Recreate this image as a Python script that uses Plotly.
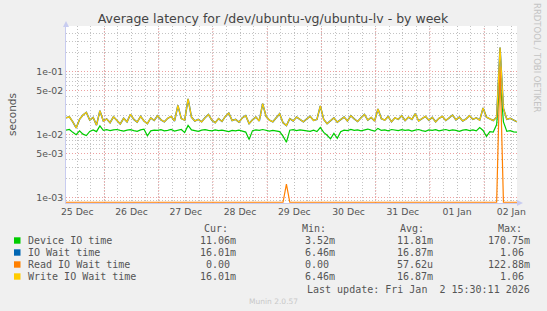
import pandas as pd
import plotly.graph_objects as go

# ---------------- data ----------------
start_time = "2025-12-25 07:00"
end_time = "2026-01-02 14:30"
step_hours = 1.5

device_io = [
    0.0118, 0.0121, 0.0109, 0.0100, 0.0115, 0.0102, 0.0097, 0.0113, 0.0119, 0.0112,
    0.0138, 0.0117, 0.0120, 0.0116, 0.0119, 0.0121, 0.0117, 0.0114, 0.0118, 0.0120,
    0.0116, 0.0113, 0.0119, 0.0122, 0.0096, 0.0115, 0.0118, 0.0117, 0.0120, 0.0115,
    0.0117, 0.0121, 0.0114, 0.0118, 0.0121, 0.0108, 0.0140, 0.0119, 0.0116, 0.0113,
    0.0118, 0.0120, 0.0117, 0.0115, 0.0119, 0.0116, 0.0118, 0.0114, 0.0112, 0.0117,
    0.0115, 0.0118, 0.0113, 0.0110, 0.0084, 0.0116, 0.0119, 0.0117, 0.0121, 0.0118,
    0.0114, 0.0117, 0.0116, 0.0112, 0.0095, 0.0076, 0.0118, 0.0120, 0.0116, 0.0119,
    0.0117, 0.0115, 0.0113, 0.0118, 0.0112, 0.0130, 0.0109, 0.0098, 0.0086, 0.0105,
    0.0088, 0.0112, 0.0118, 0.0116, 0.0121, 0.0117, 0.0119, 0.0115, 0.0120, 0.0123,
    0.0118, 0.0114, 0.0126, 0.0117, 0.0119, 0.0115, 0.0121, 0.0118, 0.0116, 0.0120,
    0.0117, 0.0119, 0.0114, 0.0118, 0.0121, 0.0116, 0.0113, 0.0119, 0.0117, 0.0120,
    0.0115, 0.0118, 0.0121, 0.0116, 0.0119, 0.0117, 0.0113, 0.0118, 0.0120, 0.0116,
    0.0119, 0.0115, 0.0130, 0.0117, 0.0094, 0.0112, 0.0110, 0.0145, 0.0720, 0.0160,
    0.0113, 0.0116, 0.0111, 0.0110,
]

write_io_wait = [
    0.0185, 0.0192, 0.0160, 0.0128, 0.0175, 0.0205, 0.0225, 0.0170, 0.0188, 0.0142,
    0.0240, 0.0165, 0.0178, 0.0155, 0.0192, 0.0170, 0.0148, 0.0182, 0.0160, 0.0210,
    0.0175, 0.0158, 0.0195, 0.0165, 0.0150, 0.0185, 0.0168, 0.0200, 0.0172, 0.0160,
    0.0182, 0.0195, 0.0165, 0.0290, 0.0180, 0.0170, 0.0370, 0.0190, 0.0165, 0.0175,
    0.0160, 0.0185, 0.0210, 0.0170, 0.0155, 0.0180, 0.0162, 0.0195, 0.0220, 0.0168,
    0.0175, 0.0158, 0.0185, 0.0200, 0.0150, 0.0172, 0.0190, 0.0165, 0.0310, 0.0195,
    0.0170, 0.0160, 0.0185, 0.0215, 0.0155, 0.0140, 0.0180, 0.0165, 0.0190, 0.0172,
    0.0160, 0.0178, 0.0195, 0.0168, 0.0175, 0.0285, 0.0175, 0.0150, 0.0165, 0.0185,
    0.0158, 0.0172, 0.0190, 0.0165, 0.0200, 0.0178, 0.0162, 0.0185, 0.0210, 0.0170,
    0.0188, 0.0165, 0.0255, 0.0180, 0.0170, 0.0195, 0.0160, 0.0185, 0.0175, 0.0200,
    0.0168, 0.0190, 0.0175, 0.0215, 0.0165, 0.0180, 0.0195, 0.0170, 0.0188, 0.0160,
    0.0182, 0.0195, 0.0168, 0.0185, 0.0205, 0.0172, 0.0190, 0.0165, 0.0178, 0.0200,
    0.0175, 0.0185, 0.0170, 0.0265, 0.0190, 0.0178, 0.0168, 0.0190, 0.2400, 0.0260,
    0.0175, 0.0182, 0.0168, 0.0160,
]

io_wait = list(write_io_wait)

read_io_wait = [
    0, 0, 0, 0, 0, 0, 0, 0, 0, 0,
    0, 0, 0, 0, 0, 0, 0, 0, 0, 0,
    0, 0, 0, 0, 0, 0, 0, 0, 0, 0,
    0, 0, 0, 0, 0, 0, 0, 0, 0, 0,
    0, 0, 0, 0, 0, 0, 0, 0, 0, 0,
    0, 0, 0, 0, 0, 0, 0, 0, 0, 0,
    0, 0, 0, 0, 0, 0.00166, 0, 0, 0, 0,
    0, 0, 0, 0, 0, 0, 0, 0, 0, 0,
    0, 0, 0, 0, 0, 0, 0, 0, 0, 0,
    0, 0, 0, 0, 0, 0, 0, 0, 0, 0,
    0, 0, 0, 0, 0, 0, 0, 0, 0, 0,
    0, 0, 0, 0, 0, 0, 0, 0, 0, 0,
    0, 0, 0, 0, 0, 0, 0, 0, 0.1200, 0,
    0, 0, 0, 0,
]

day_labels = ["25 Dec", "26 Dec", "27 Dec", "28 Dec", "29 Dec", "30 Dec", "31 Dec", "01 Jan", "02 Jan"]
day_noons = ["2025-12-25 12:00", "2025-12-26 12:00", "2025-12-27 12:00", "2025-12-28 12:00",
             "2025-12-29 12:00", "2025-12-30 12:00", "2025-12-31 12:00", "2026-01-01 12:00",
             "2026-01-02 12:00"]
day_midnights = ["2025-12-26", "2025-12-27", "2025-12-28", "2025-12-29",
                 "2025-12-30", "2025-12-31", "2026-01-01", "2026-01-02"]

y_major_vals = [1e-3, 5e-3, 1e-2, 5e-2, 1e-1]
y_major_text = ["1e-03", "5e-03", "1e-02", "5e-02", "1e-01"]
y_minor_vals = [9e-4, 2e-3, 3e-3, 4e-3, 6e-3, 7e-3, 8e-3, 9e-3,
                2e-2, 3e-2, 4e-2, 6e-2, 7e-2, 8e-2, 9e-2, 2e-1, 3e-1, 4e-1]

series_names = ["Device IO time", "IO Wait time", "Read IO Wait time", "Write IO Wait time"]
series_colors = ["#00CC00", "#0066B3", "#FF8000", "#FFCC00"]
cur_vals = ["11.06m", "16.01m", "0.00\u00a0", "16.01m"]
min_vals = ["3.52m", "6.46m", "0.00\u00a0", "6.46m"]
avg_vals = ["11.81m", "16.87m", "57.62u", "16.87m"]
max_vals = ["170.75m", "1.06\u00a0", "122.88m", "1.06\u00a0"]

# ---------------- layout geometry ----------------
W, H = 547, 311
L, R, T, B = 66, 30, 26, 108
PW, PH = W - L - R, H - T - B
Y_RANGE = [-3.08, -0.28]
FLOOR = 10 ** (Y_RANGE[0] + 0.012)  # where zero values sit on the log axis


def px2x(px):
    return (px - L) / PW


def py2y(py):
    return 1 - (py - T) / PH


times = pd.date_range(start=start_time, periods=len(device_io), freq=pd.Timedelta(hours=step_hours))

fig = go.Figure()
plot_series = [device_io, io_wait, [max(v, FLOOR) for v in read_io_wait], write_io_wait]
widths = [1.2, 1.5, 1.2, 1.2]
for name, vals, col, w in zip(series_names, plot_series, series_colors, widths):
    fig.add_trace(go.Scatter(x=times, y=vals, mode="lines", name=name,
                             line=dict(color=col, width=w), hoverinfo="skip"))

MINOR_GRID = "rgba(190,190,190,0.9)"
MAJOR_GRID = "rgba(235,150,150,0.9)"

# red day gridlines at midnight
for d in day_midnights:
    fig.add_shape(type="line", xref="x", yref="paper", x0=d, x1=d, y0=0, y1=1,
                  line=dict(color=MAJOR_GRID, width=1, dash="1px,2px"), layer="below")

fig.update_layout(
    width=W, height=H,
    margin=dict(l=L, r=R, t=T, b=B, pad=0),
    paper_bgcolor="#F0F0F0",
    plot_bgcolor="#FFFFFF",
    showlegend=False,
    font=dict(family="DejaVu Sans", size=9.3, color="#555555"),
    title=dict(text="Average latency for /dev/ubuntu-vg/ubuntu-lv - by week",
               x=273 / W, xanchor="center", y=1 - 19 / H, yanchor="middle",
               font=dict(family="DejaVu Sans", size=12.5, color="#444444")),
    xaxis=dict(
        type="date", range=[start_time, end_time],
        tickmode="array", tickvals=day_noons, ticktext=day_labels,
        showgrid=True, gridcolor=MINOR_GRID, griddash="1px,2px", gridwidth=1,
        minor=dict(dtick=6 * 3600 * 1000, tick0="2025-12-25 00:00", showgrid=True,
                   gridcolor=MINOR_GRID, griddash="1px,2px", gridwidth=1),
        showline=True, linecolor="#C8CCF0", linewidth=1,
        ticks="", zeroline=False, fixedrange=True,
        tickfont=dict(family="DejaVu Sans", size=9.3, color="#555555"),
    ),
    yaxis=dict(
        type="log", range=Y_RANGE,
        tickmode="array", tickvals=y_major_vals, ticktext=y_major_text,
        showgrid=True, gridcolor=MAJOR_GRID, griddash="1px,2px", gridwidth=1,
        minor=dict(tickmode="array", tickvals=y_minor_vals, showgrid=True,
                   gridcolor=MINOR_GRID, griddash="1px,2px", gridwidth=1),
        showline=True, linecolor="#C8CCF0", linewidth=1,
        ticks="", zeroline=False, fixedrange=True,
        tickfont=dict(family="DejaVu Sans", size=9.3, color="#555555"),
        title=dict(text="seconds", font=dict(family="DejaVu Sans", size=10.5, color="#555555"),
                   standoff=17),
    ),
)

# axis arrows
fig.add_shape(type="path", xref="paper", yref="paper",
              path=f"M {px2x(63)} {py2y(27)} L {px2x(69)} {py2y(27)} L {px2x(66)} {py2y(21)} Z",
              fillcolor="#C8CCF0", line=dict(width=0))
fig.add_shape(type="path", xref="paper", yref="paper",
              path=f"M {px2x(517)} {py2y(200)} L {px2x(517)} {py2y(206)} L {px2x(523)} {py2y(203)} Z",
              fillcolor="#C8CCF0", line=dict(width=0))

ann = []
MONO = "DejaVu Sans Mono"


def text(px, py, s, anchor="left", size=10, color="#555555", family=MONO, angle=0):
    ann.append(dict(x=px2x(px), y=py2y(py), xref="paper", yref="paper", text=s,
                    showarrow=False, xanchor=anchor, yanchor="middle", textangle=angle,
                    font=dict(family=family, size=size, color=color)))


# legend header
for hx, h in zip([202, 300, 398, 496], ["Cur:", "Min:", "Avg:", "Max:"]):
    text(hx, 228, h)

row_y = [240.5, 252.5, 264.5, 276.5]
for i in range(4):
    ry = row_y[i]
    fig.add_shape(type="rect", xref="paper", yref="paper",
                  x0=px2x(14), x1=px2x(20.5), y0=py2y(ry + 3.2), y1=py2y(ry - 3.2),
                  fillcolor=series_colors[i], line=dict(width=0))
    text(26, ry, series_names[i])
    text(238, ry, cur_vals[i], anchor="right")
    text(337, ry, min_vals[i], anchor="right")
    text(434.5, ry, avg_vals[i], anchor="right")
    text(532, ry, max_vals[i], anchor="right")

text(532, 289, "Last update: Fri Jan\u00a0 2 15:30:11 2026", anchor="right")
text(273, 301, "Munin 2.0.57", anchor="center", size=7.5, color="#C8C8C8", family="DejaVu Sans")
text(537, 58, "RRDTOOL / TOBI OETIKER", anchor="center", size=8.5, color="#C4C4C4",
     family="DejaVu Sans", angle=90)

fig.update_layout(annotations=ann)
fig.write_html("out.html")
